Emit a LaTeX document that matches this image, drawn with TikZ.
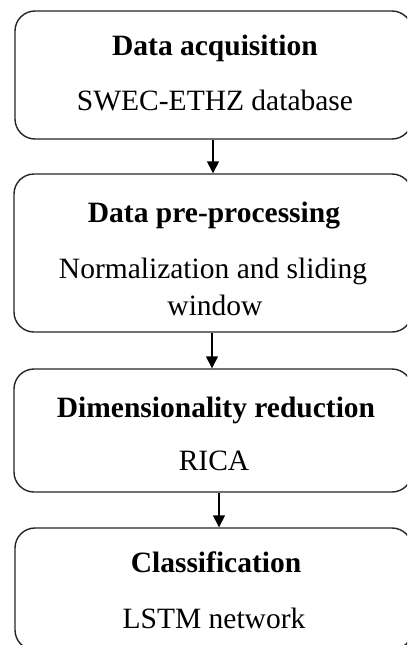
\documentclass[tikz,border=0pt]{standalone}
\usepackage{fontspec}
\setmainfont{Liberation Serif}
\usetikzlibrary{arrows.meta}
\tikzset{
  box/.style={draw=black!85, line width=1.4pt, rounded corners=20pt, inner sep=0pt},
  txt/.style={anchor=base, inner sep=0pt, font=\fontsize{29.5}{35}\selectfont},
  btxt/.style={txt, font=\fontsize{29.5}{35}\selectfont\bfseries},
  arr/.style={draw=black, line width=1.4pt, -{Triangle[length=12pt,width=12pt]}}
}
\begin{document}
\begin{tikzpicture}[x=1pt,y=-1pt]
\clip (0,0) rectangle (407,645);
\fill[white] (0,0) rectangle (407,645);
% boxes
\node[box, minimum width=397pt, minimum height=128pt] (b1) at (213.5,75) {};
\node[box, minimum width=398pt, minimum height=158pt] (b2) at (213,253) {};
\node[box, minimum width=398pt, minimum height=123pt] (b3) at (213,430.5) {};
\node[box, minimum width=397pt, minimum height=122pt] (b4) at (213.5,589) {};
% texts
\node[btxt] (t1) at (215,55) {Data acquisition};
\node[txt] (s1) at (215,110) {SWEC-ETHZ database};
\node[btxt] (t2) at (214,222) {Data pre-processing};
\node[txt] (s2a) at (213,278) {Normalization and sliding};
\node[txt] (s2b) at (215,315) {window};
\node[btxt] (t3) at (216,417) {Dimensionality reduction};
\node[txt] (s3) at (214,470) {RICA};
\node[btxt] (t4) at (216,572) {Classification};
\node[txt] (s4) at (214,628) {LSTM network};
% arrows
\draw[arr] (b1.south -| 213,0) -- (b2.north -| 213,0);
\draw[arr] (b2.south -| 212,0) -- (b3.north -| 212,0);
\draw[arr] (b3.south -| 219,0) -- (b4.north -| 219,0);
\end{tikzpicture}
\end{document}
